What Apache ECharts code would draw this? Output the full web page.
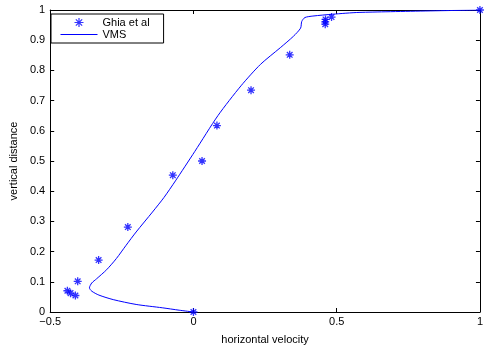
<!DOCTYPE html>
<html>
<head>
<meta charset="utf-8">
<script src="https://cdn.jsdelivr.net/npm/echarts@6/dist/echarts.min.js"></script>
<style>
  html, body { margin: 0; padding: 0; background: #fff; }
  #chart { width: 486px; height: 350px; }
</style>
</head>
<body>
<div id="chart"></div>
<script>
// Ghia et al reference points
const ghiaX = [0, -0.412, -0.429, -0.44, -0.404, -0.331, -0.229, -0.072, 0.03, 0.082, 0.201, 0.336, 0.46, 0.46, 0.461, 0.482, 1];
const ghiaY = [0, 0.0547, 0.0625, 0.0703, 0.1016, 0.1719, 0.2813, 0.4531, 0.5, 0.6172, 0.7344, 0.8516, 0.9531, 0.9609, 0.9688, 0.9766, 1];

// VMS profile
const vmsX = [0, -0.05, -0.109, -0.2, -0.28, -0.33, -0.355, -0.363, -0.355, -0.338, -0.303, -0.269, -0.235, -0.2, -0.143, -0.103, -0.063, 0.005, 0.086, 0.166, 0.234, 0.303, 0.349, 0.374, 0.378, 0.389, 0.417, 0.486, 0.578, 1];
const vmsY = [0, 0.006, 0.014, 0.025, 0.041, 0.056, 0.069, 0.080, 0.096, 0.110, 0.140, 0.177, 0.221, 0.265, 0.331, 0.379, 0.434, 0.532, 0.651, 0.749, 0.820, 0.875, 0.913, 0.940, 0.962, 0.975, 0.980, 0.986, 0.992, 1];

const seriesNames = ['Ghia et al', 'VMS'];
const xLabel = 'horizontal velocity';
const yLabel = 'vertical distance';

const star = 'path://M0,-5L0,5M-5,0L5,0M-3.5,-3.5L3.5,3.5M-3.5,3.5L3.5,-3.5';
const font = 'Liberation Sans, Arial, sans-serif';
const minus = v => String(v).replace('-', '\u2212');

const chart = echarts.init(document.getElementById('chart'));

// top / right axes only give the box and its inner ticks
const boxAxis = {
  axisLine: { show: true, onZero: false, lineStyle: { color: '#000', width: 1 } },
  axisTick: { show: true, inside: true, length: 4, lineStyle: { color: '#000' } },
  axisLabel: { show: false },
  splitLine: { show: false }
};

chart.setOption({
  animation: false,
  textStyle: { fontFamily: font },
  grid: { left: 46, right: 3, top: 10, bottom: 34 },
  legend: {
    left: 51, top: 14,
    orient: 'vertical',
    backgroundColor: '#fff',
    borderColor: '#000',
    borderWidth: 1,
    padding: [3, 14, 3, 9],
    itemGap: 1,
    itemWidth: 37,
    itemHeight: 9,
    textStyle: { fontFamily: font, fontSize: 11, color: '#000' },
    data: [
      { name: seriesNames[0], icon: star, itemStyle: { borderWidth: 1.2, borderColor: '#0000ff' } },
      { name: seriesNames[1], itemStyle: { opacity: 0 }, lineStyle: { width: 1 } }
    ]
  },
  xAxis: [{
    type: 'value', min: -0.5, max: 1, interval: 0.5,
    name: xLabel, nameLocation: 'middle', nameGap: 22,
    nameTextStyle: { fontSize: 11, color: '#000', fontFamily: font },
    axisLine: { show: true, onZero: false, lineStyle: { color: '#000', width: 1 } },
    axisTick: { show: true, inside: true, length: 4, lineStyle: { color: '#000' } },
    axisLabel: { color: '#000', fontSize: 11, margin: 4, formatter: minus, fontFamily: font },
    splitLine: { show: false }
  }, Object.assign({ type: 'value', min: -0.5, max: 1, interval: 0.5, position: 'top' }, boxAxis)],
  yAxis: [{
    type: 'value', min: 0, max: 1, interval: 0.1,
    name: yLabel, nameLocation: 'middle', nameGap: 31,
    nameTextStyle: { fontSize: 11, color: '#000', fontFamily: font },
    axisLine: { show: true, onZero: false, lineStyle: { color: '#000', width: 1 } },
    axisTick: { show: true, inside: true, length: 4, lineStyle: { color: '#000' } },
    axisLabel: { color: '#000', fontSize: 11, margin: 5, fontFamily: font },
    splitLine: { show: false }
  }, Object.assign({ type: 'value', min: 0, max: 1, interval: 0.1, position: 'right' }, boxAxis)],
  series: [{
    name: seriesNames[0],
    type: 'scatter',
    symbol: star,
    symbolSize: 8,
    itemStyle: { color: '#0000ff', borderColor: '#0000ff', borderWidth: 1.3 },
    data: ghiaX.map((x, i) => [x, ghiaY[i]]),
    z: 3
  }, {
    name: seriesNames[1],
    type: 'line',
    showSymbol: false,
    symbol: 'none',
    smooth: 0.25,
    lineStyle: { color: '#0000ff', width: 1 },
    itemStyle: { color: '#0000ff' },
    data: vmsX.map((x, i) => [x, vmsY[i]]),
    z: 2
  }]
});
</script>
</body>
</html>
